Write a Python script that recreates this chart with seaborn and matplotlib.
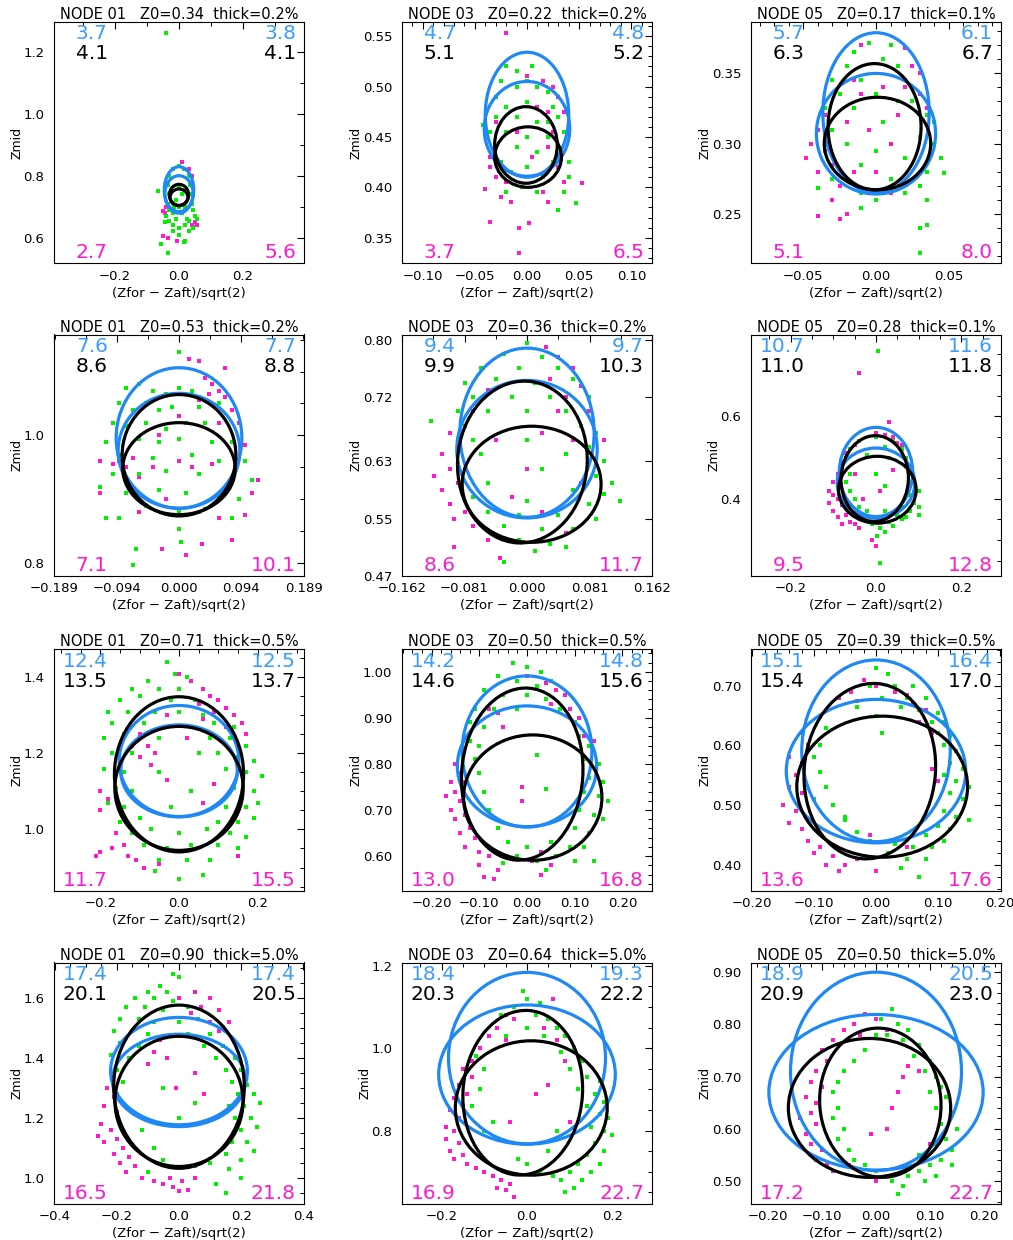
import numpy as np
import matplotlib
matplotlib.use("Agg")
import matplotlib.pyplot as plt
from matplotlib.patches import Ellipse
from matplotlib.ticker import MultipleLocator
import seaborn as sns

# panel order: row by row, columns = NODE 01, 03, 05
NODES = ["01", "03", "05"] * 4
Z0 = [0.34, 0.22, 0.17, 0.53, 0.36, 0.28, 0.71, 0.50, 0.39, 0.90, 0.64, 0.50]
THICK = ["0.2", "0.2", "0.1", "0.2", "0.2", "0.1", "0.5", "0.5", "0.5", "5.0", "5.0", "5.0"]

BLUE_L = ["3.7", "4.7", "5.7", "7.6", "9.4", "10.7", "12.4", "14.2", "15.1", "17.4", "18.4", "18.9"]
BLUE_R = ["3.8", "4.8", "6.1", "7.7", "9.7", "11.6", "12.5", "14.8", "16.4", "17.4", "19.3", "20.5"]
BLACK_L = ["4.1", "5.1", "6.3", "8.6", "9.9", "11.0", "13.5", "14.6", "15.4", "20.1", "20.3", "20.9"]
BLACK_R = ["4.1", "5.2", "6.7", "8.8", "10.3", "11.8", "13.7", "15.6", "17.0", "20.5", "22.2", "23.0"]
PINK_L = ["2.7", "3.7", "5.1", "7.1", "8.6", "9.5", "11.7", "13.0", "13.6", "16.5", "16.9", "17.2"]
PINK_R = ["5.6", "6.5", "8.0", "10.1", "11.7", "12.8", "15.5", "16.8", "17.6", "21.8", "22.7", "22.7"]

# axis ranges
X_HALF = [0.39, 0.1198, 0.086, 0.189, 0.162, 0.293, 0.3175, 0.262, 0.202, 0.402, 0.293, 0.231]
Y_LO = [0.517, 0.3246, 0.2146, 0.780, 0.470, 0.213, 0.839, 0.525, 0.357, 0.912, 0.622, 0.456]
Y_HI = [1.297, 0.5642, 0.3868, 1.158, 0.807, 0.798, 1.474, 1.049, 0.761, 1.717, 1.208, 0.9185]

X_TICKS = [[-0.2, 0, 0.2], [-0.1, -0.05, 0, 0.05, 0.1], [-0.05, 0, 0.05],
           [-0.189, -0.094, 0, 0.094, 0.189], [-0.162, -0.081, 0, 0.081, 0.162], [-0.2, 0, 0.2],
           [-0.2, 0, 0.2], [-0.2, -0.1, 0, 0.1, 0.2], [-0.2, -0.1, 0, 0.1, 0.2],
           [-0.4, -0.2, 0, 0.2, 0.4], [-0.2, 0, 0.2], [-0.2, -0.1, 0, 0.1, 0.2]]
X_DEC = [1, 2, 2, 3, 3, 1, 1, 2, 2, 1, 1, 2]
Y_TICKS = [[0.6, 0.8, 1.0, 1.2], [0.35, 0.40, 0.45, 0.50, 0.55], [0.25, 0.30, 0.35],
           [0.8, 1.0], [0.47, 0.55, 0.63, 0.72, 0.80], [0.4, 0.6],
           [1.0, 1.2, 1.4], [0.6, 0.7, 0.8, 0.9, 1.0], [0.4, 0.5, 0.6, 0.7],
           [1.0, 1.2, 1.4, 1.6], [0.8, 1.0, 1.2], [0.5, 0.6, 0.7, 0.8, 0.9]]
Y_DEC = [1, 2, 2, 1, 2, 1, 1, 2, 2, 1, 1, 2]
X_MINOR = [0.1, 0.01, 0.01, 0.047, 0.0405, 0.05, 0.05, 0.02, 0.02, 0.05, 0.05, 0.02]
Y_MINOR = [0.1, 0.01, 0.01, 0.05, None, 0.05, 0.05, 0.02, 0.02, 0.05, 0.05, 0.02]

# blue ellipses: (cy, half-width, half-height), centred on x=0
BLUE_TALL = [(0.754, 0.046, 0.075), (0.472, 0.040, 0.062), (0.322, 0.0366, 0.057),
             (0.996, 0.095, 0.110), (0.670, 0.087, 0.118), (0.465, 0.086, 0.108),
             (1.180, 0.152, 0.146), (0.827, 0.136, 0.164), (0.591, 0.120, 0.152),
             (1.355, 0.220, 0.179), (0.976, 0.184, 0.208), (0.710, 0.158, 0.190)]
BLUE_WIDE = [(0.742, 0.044, 0.058), (0.458, 0.041, 0.047), (0.307, 0.041, 0.043),
             (0.976, 0.092, 0.090), (0.647, 0.091, 0.096), (0.438, 0.091, 0.085),
             (1.154, 0.148, 0.121), (0.795, 0.146, 0.131), (0.557, 0.145, 0.120),
             (1.324, 0.214, 0.154), (0.936, 0.207, 0.169), (0.670, 0.198, 0.149)]
# black ellipses: (cx, cy, half-width, half-height, angle)
BLACK_A = [(0.0, 0.738, 0.030, 0.034, 0), (-0.001, 0.442, 0.030, 0.038, 0), (-0.001, 0.312, 0.032, 0.045, 0),
           (0.0, 0.969, 0.086, 0.095, 0), (-0.006, 0.629, 0.084, 0.113, -3), (-0.003, 0.449, 0.079, 0.104, -2),
           (0.0, 1.145, 0.164, 0.204, 0), (-0.010, 0.778, 0.127, 0.187, -4), (-0.010, 0.557, 0.106, 0.147, -5),
           (0.0, 1.303, 0.210, 0.272, 0), (-0.010, 0.892, 0.140, 0.200, -4), (0.008, 0.650, 0.112, 0.143, 4)]
BLACK_B = [(0.0, 0.730, 0.028, 0.027, 0), (0.001, 0.430, 0.032, 0.030, 0), (0.001, 0.300, 0.0366, 0.033, 0),
           (0.0, 0.948, 0.085, 0.072, 0), (0.006, 0.598, 0.090, 0.081, 0), (0.003, 0.422, 0.091, 0.081, 0),
           (0.0, 1.108, 0.163, 0.163, 0), (0.012, 0.727, 0.145, 0.136, 0), (0.010, 0.531, 0.138, 0.118, 0),
           (0.0, 1.254, 0.206, 0.217, 0), (0.010, 0.855, 0.178, 0.163, 0), (-0.012, 0.640, 0.150, 0.133, 0)]

# scatter points (x, y pairs, flattened)
G00 = [-0.04, 1.262, -0.065, 0.75, 0.0, 0.83, -0.02, 0.82, 0.015, 0.82, -0.03, 0.80, 0.03, 0.80, -0.035, 0.77,
       0.035, 0.77, -0.03, 0.74, 0.04, 0.74, -0.035, 0.71, 0.04, 0.71, -0.03, 0.69, 0.045, 0.69, -0.04, 0.67,
       0.05, 0.67, -0.03, 0.655, 0.03, 0.655, -0.02, 0.64, 0.02, 0.64, 0.0, 0.63, -0.01, 0.66, 0.01, 0.68,
       0.0, 0.70, -0.01, 0.72, 0.01, 0.74, 0.0, 0.76, -0.015, 0.70, 0.02, 0.70, -0.02, 0.68, 0.025, 0.66,
       0.055, 0.66, -0.055, 0.58, -0.035, 0.55, 0.02, 0.59, 0.015, 0.585, -0.045, 0.65, 0.045, 0.63, 0.0, 0.61,
       -0.02, 0.62, 0.03, 0.62]
M00 = [0.01, 0.845, 0.03, 0.822, 0.04, 0.80, -0.045, 0.68, -0.05, 0.685, -0.05, 0.605, -0.035, 0.60, -0.005, 0.59,
       0.055, 0.66, 0.055, 0.64, 0.045, 0.635, 0.05, 0.65, -0.04, 0.70, -0.02, 0.62, 0.04, 0.64]
G01 = [-0.02, 0.52, -0.01, 0.515, 0.0, 0.505, 0.01, 0.50, -0.025, 0.505, -0.03, 0.49, 0.02, 0.495, -0.02, 0.48,
       0.0, 0.485, 0.025, 0.48, -0.03, 0.47, 0.03, 0.47, -0.01, 0.47, 0.01, 0.465, -0.035, 0.455, -0.042, 0.462,
       0.035, 0.455, -0.02, 0.455, 0.0, 0.45, 0.02, 0.45, -0.03, 0.44, 0.03, 0.44, -0.01, 0.44, 0.01, 0.435,
       -0.025, 0.425, 0.025, 0.425, 0.0, 0.42, -0.015, 0.415, 0.015, 0.41, 0.04, 0.425, 0.04, 0.41, 0.035, 0.395,
       0.03, 0.377, 0.047, 0.384, -0.005, 0.40, 0.01, 0.395, -0.02, 0.395, 0.02, 0.465, -0.01, 0.50, 0.005, 0.52]
M01 = [-0.02, 0.553, 0.0, 0.51, 0.015, 0.505, 0.025, 0.50, 0.03, 0.49, 0.02, 0.475, 0.035, 0.475, 0.01, 0.48,
       -0.03, 0.465, -0.035, 0.43, -0.03, 0.41, -0.035, 0.42, 0.02, 0.44, 0.025, 0.455, 0.005, 0.43, -0.01, 0.455,
       0.03, 0.42, 0.035, 0.405, -0.04, 0.398, -0.025, 0.39, -0.015, 0.385, -0.035, 0.366, -0.008, 0.36,
       0.002, 0.365, -0.008, 0.335, 0.053, 0.404, 0.015, 0.395, 0.02, 0.385, -0.02, 0.405]
G02 = [-0.005, 0.372, 0.01, 0.37, -0.015, 0.365, 0.005, 0.36, -0.02, 0.355, 0.015, 0.355, -0.03, 0.345, -0.01, 0.345,
       0.02, 0.345, -0.025, 0.335, 0.0, 0.335, -0.035, 0.325, -0.015, 0.325, 0.025, 0.33, 0.035, 0.32, -0.03, 0.31,
       0.005, 0.315, 0.03, 0.305, 0.04, 0.30, -0.02, 0.30, 0.0, 0.295, 0.02, 0.29, 0.045, 0.29, -0.01, 0.285,
       0.035, 0.28, -0.03, 0.275, 0.01, 0.275, 0.03, 0.27, 0.047, 0.279, -0.01, 0.265, 0.02, 0.265, 0.035, 0.26,
       0.0, 0.26, -0.01, 0.254, 0.03, 0.24, 0.035, 0.242, 0.03, 0.222, -0.04, 0.268, 0.04, 0.315, 0.015, 0.33]
M02 = [-0.01, 0.37, 0.02, 0.368, 0.025, 0.355, 0.03, 0.35, 0.02, 0.34, 0.03, 0.335, -0.015, 0.345, 0.005, 0.34,
       -0.035, 0.32, -0.04, 0.31, -0.045, 0.30, -0.048, 0.29, -0.035, 0.295, -0.04, 0.28, -0.03, 0.285, -0.025, 0.27,
       -0.03, 0.26, -0.02, 0.25, -0.04, 0.248, -0.025, 0.246, -0.015, 0.28, -0.005, 0.31, 0.01, 0.30, 0.015, 0.32,
       0.035, 0.325, -0.02, 0.315, -0.01, 0.335, 0.0, 0.28, 0.01, 0.265]
G10 = [0.0, 1.13, -0.08, 1.075, -0.06, 1.08, -0.04, 1.07, -0.02, 1.065, 0.0, 1.075, 0.02, 1.07, -0.09, 1.05,
       -0.07, 1.04, -0.05, 1.05, -0.03, 1.04, -0.01, 1.045, 0.03, 1.045, 0.06, 1.05, -0.1, 1.02, -0.08, 1.015,
       -0.05, 1.02, -0.02, 1.01, 0.01, 1.02, 0.04, 1.02, -0.11, 0.99, -0.06, 0.995, -0.03, 0.99, 0.0, 0.995,
       0.05, 0.99, 0.08, 0.99, -0.09, 0.97, -0.04, 0.965, 0.02, 0.97, 0.06, 0.96, 0.1, 0.96, -0.1, 0.94,
       -0.06, 0.94, -0.02, 0.945, 0.03, 0.94, 0.08, 0.935, 0.11, 0.93, -0.08, 0.91, -0.03, 0.915, 0.01, 0.91,
       0.06, 0.905, 0.09, 0.90, -0.11, 0.87, -0.09, 0.87, -0.05, 0.89, 0.0, 0.88, 0.04, 0.885, 0.08, 0.87,
       0.0, 0.853, -0.07, 0.797, -0.065, 0.822, 0.003, 0.833, -0.12, 0.92]
M10 = [0.015, 1.12, 0.03, 1.117, 0.07, 1.105, 0.04, 1.09, 0.05, 1.08, 0.06, 1.07, 0.07, 1.06, 0.045, 1.065,
       0.08, 1.04, 0.03, 1.055, 0.09, 1.02, 0.06, 1.02, -0.09, 0.96, -0.08, 0.95, -0.1, 0.955, -0.07, 0.965,
       -0.12, 0.96, -0.12, 0.91, -0.06, 0.935, -0.04, 0.95, 0.0, 0.96, 0.02, 0.95, 0.05, 0.955, 0.1, 0.985,
       0.12, 0.93, 0.11, 0.91, -0.06, 0.88, -0.02, 0.9, 0.03, 0.88, 0.06, 0.87, 0.1, 0.875, -0.025, 0.823,
       0.01, 0.813, 0.035, 0.83, 0.08, 0.836, -0.03, 1.0, 0.0, 1.03]
G11 = [0.0, 0.795, -0.03, 0.78, 0.02, 0.775, -0.06, 0.76, -0.01, 0.76, 0.04, 0.76, -0.08, 0.74, -0.04, 0.745,
       0.01, 0.74, 0.06, 0.745, -0.07, 0.72, -0.02, 0.72, 0.03, 0.72, 0.08, 0.72, -0.09, 0.70, -0.05, 0.70,
       0.0, 0.70, 0.05, 0.70, -0.125, 0.686, -0.08, 0.68, 0.07, 0.68, 0.09, 0.67, -0.07, 0.66, 0.0, 0.66,
       0.08, 0.65, -0.06, 0.64, 0.05, 0.64, 0.1, 0.63, -0.08, 0.62, 0.02, 0.62, 0.09, 0.61, 0.11, 0.60,
       -0.05, 0.60, 0.06, 0.59, 0.1, 0.585, 0.12, 0.575, -0.07, 0.58, 0.0, 0.575, 0.08, 0.57, -0.05, 0.56,
       -0.01, 0.555, 0.04, 0.555, 0.09, 0.55, -0.03, 0.54, 0.02, 0.535, 0.06, 0.535, -0.01, 0.52, 0.03, 0.515,
       0.05, 0.51, -0.03, 0.49, 0.01, 0.505]
M11 = [0.025, 0.79, 0.04, 0.775, 0.06, 0.76, 0.03, 0.745, 0.07, 0.735, 0.05, 0.72, 0.08, 0.70, 0.04, 0.70,
       -0.05, 0.73, -0.07, 0.70, -0.1, 0.67, -0.09, 0.65, -0.11, 0.64, -0.1, 0.62, -0.12, 0.61, -0.09, 0.60,
       -0.11, 0.59, -0.1, 0.57, -0.08, 0.56, -0.095, 0.55, -0.07, 0.54, -0.095, 0.51, -0.05, 0.52, -0.035, 0.495,
       -0.02, 0.58, 0.0, 0.62, 0.02, 0.67, 0.06, 0.66, 0.07, 0.60, -0.04, 0.66, 0.1, 0.66, 0.02, 0.56, 0.05, 0.53]
G12 = [0.005, 0.757, 0.0, 0.55, -0.04, 0.54, 0.04, 0.54, -0.06, 0.52, 0.02, 0.525, 0.06, 0.52, -0.07, 0.50,
       -0.02, 0.505, 0.03, 0.50, 0.07, 0.50, -0.08, 0.48, 0.08, 0.48, -0.06, 0.46, 0.0, 0.46, 0.085, 0.46,
       -0.07, 0.44, 0.09, 0.44, 0.02, 0.43, -0.06, 0.42, 0.1, 0.42, 0.08, 0.41, -0.05, 0.40, 0.09, 0.39,
       0.1, 0.38, -0.04, 0.38, 0.06, 0.38, 0.08, 0.37, -0.02, 0.37, 0.02, 0.37, 0.05, 0.36, -0.03, 0.355,
       0.0, 0.355, 0.07, 0.355, 0.03, 0.345, -0.01, 0.34, 0.04, 0.335, 0.01, 0.33, 0.02, 0.32, 0.003, 0.31,
       0.01, 0.245, 0.06, 0.35, 0.1, 0.36]
M12 = [0.03, 0.585, -0.04, 0.705, 0.0, 0.56, 0.02, 0.555, 0.04, 0.55, 0.05, 0.535, 0.06, 0.53, -0.05, 0.53,
       -0.07, 0.51, -0.08, 0.49, -0.09, 0.46, -0.1, 0.44, -0.09, 0.43, -0.11, 0.42, -0.1, 0.41, -0.09, 0.40,
       -0.11, 0.39, -0.08, 0.385, -0.1, 0.37, -0.07, 0.36, -0.09, 0.355, -0.06, 0.345, -0.05, 0.34, -0.08, 0.34,
       -0.04, 0.33, -0.01, 0.30, 0.0, 0.285, 0.01, 0.42, -0.03, 0.40, 0.04, 0.47, -0.05, 0.46]
G20 = [-0.03, 1.44, -0.01, 1.41, 0.02, 1.40, -0.08, 1.39, -0.12, 1.37, -0.05, 1.37, 0.0, 1.37, -0.15, 1.34,
       -0.1, 1.35, -0.02, 1.34, 0.04, 1.34, -0.18, 1.31, -0.13, 1.31, -0.06, 1.31, 0.0, 1.31, 0.06, 1.30,
       -0.17, 1.28, -0.09, 1.28, 0.03, 1.27, 0.09, 1.28, 0.14, 1.27, -0.19, 1.24, -0.14, 1.25, -0.05, 1.24,
       0.08, 1.24, 0.13, 1.24, 0.17, 1.22, -0.17, 1.2, -0.12, 1.2, 0.1, 1.2, 0.15, 1.19, 0.19, 1.18,
       -0.19, 1.16, -0.14, 1.15, 0.12, 1.16, 0.17, 1.15, 0.21, 1.14, -0.16, 1.11, -0.12, 1.1, 0.14, 1.11,
       0.19, 1.1, -0.18, 1.07, -0.14, 1.06, 0.12, 1.06, 0.17, 1.06, 0.2, 1.07, -0.15, 1.02, -0.1, 1.03,
       0.1, 1.02, 0.15, 1.02, 0.19, 1.03, -0.12, 0.99, -0.07, 1.0, 0.0, 0.99, 0.07, 1.0, 0.13, 0.99,
       0.17, 0.98, -0.09, 0.96, -0.03, 0.95, 0.03, 0.96, 0.1, 0.96, 0.15, 0.95, -0.05, 0.92, 0.02, 0.92,
       0.08, 0.92, -0.06, 0.89, 0.0, 0.87, 0.06, 0.88, -0.02, 1.06, 0.03, 1.1, -0.05, 1.15, 0.05, 1.2]
M20 = [0.0, 1.41, 0.03, 1.39, 0.06, 1.37, 0.08, 1.35, 0.1, 1.34, 0.12, 1.32, 0.05, 1.33, 0.14, 1.30,
       0.09, 1.31, 0.16, 1.28, 0.12, 1.27, 0.06, 1.29, -0.1, 1.25, -0.08, 1.22, -0.12, 1.22, -0.06, 1.2,
       -0.1, 1.19, -0.07, 1.17, -0.2, 1.1, -0.18, 1.08, -0.2, 1.05, -0.16, 0.99, -0.14, 0.96, -0.17, 0.95,
       -0.13, 0.93, -0.11, 0.92, -0.09, 0.9, -0.05, 0.91, -0.21, 0.93, -0.2, 0.94, -0.03, 1.13, 0.06, 1.07,
       0.09, 1.12, 0.15, 0.93, 0.17, 1.25, -0.03, 1.3, 0.02, 1.24]
G21 = [-0.03, 1.02, 0.0, 1.01, 0.03, 1.0, -0.06, 0.99, -0.02, 0.98, 0.02, 0.97, 0.05, 0.98, -0.09, 0.96,
       -0.05, 0.95, 0.0, 0.95, 0.04, 0.94, -0.11, 0.92, -0.07, 0.92, -0.02, 0.92, 0.07, 0.92, -0.12, 0.89,
       -0.09, 0.88, 0.1, 0.89, -0.12, 0.85, -0.1, 0.84, 0.11, 0.86, 0.13, 0.84, -0.11, 0.81, 0.12, 0.81,
       0.15, 0.80, -0.1, 0.78, 0.13, 0.77, 0.16, 0.76, -0.09, 0.74, 0.12, 0.74, 0.15, 0.73, 0.17, 0.72,
       -0.08, 0.70, 0.11, 0.70, 0.14, 0.69, 0.16, 0.68, -0.06, 0.66, 0.1, 0.66, 0.13, 0.65, -0.04, 0.63,
       0.0, 0.62, 0.05, 0.63, 0.09, 0.62, 0.12, 0.62, -0.02, 0.60, 0.02, 0.59, 0.06, 0.60, 0.1, 0.59,
       -0.05, 0.585, 0.04, 0.57, 0.14, 0.59, 0.02, 0.82, 0.04, 0.745]
M21 = [0.0, 0.99, 0.04, 0.975, 0.06, 0.96, 0.08, 0.95, 0.05, 0.93, 0.09, 0.92, 0.11, 0.90, -0.08, 0.92,
       -0.06, 0.91, -0.05, 0.88, 0.12, 0.86, 0.14, 0.85, -0.15, 0.80, -0.14, 0.78, -0.16, 0.76, -0.13, 0.76,
       -0.15, 0.74, -0.17, 0.73, -0.14, 0.72, -0.16, 0.70, -0.13, 0.69, -0.15, 0.68, -0.12, 0.66, -0.14, 0.65,
       -0.11, 0.64, -0.13, 0.62, -0.1, 0.61, -0.08, 0.60, -0.1, 0.58, -0.06, 0.57, -0.09, 0.555, -0.07, 0.55,
       0.03, 0.56, 0.05, 0.58, -0.01, 0.75, -0.01, 0.72, 0.03, 0.61, 0.01, 0.59]
G22 = [0.0, 0.73, 0.02, 0.72, -0.01, 0.70, 0.03, 0.70, 0.06, 0.70, 0.01, 0.68, 0.05, 0.68, 0.08, 0.68,
       -0.03, 0.665, 0.04, 0.665, 0.07, 0.66, 0.1, 0.655, 0.0, 0.65, 0.09, 0.64, 0.11, 0.64, -0.08, 0.63,
       0.1, 0.62, 0.12, 0.615, -0.09, 0.60, 0.11, 0.60, 0.13, 0.59, -0.1, 0.58, 0.12, 0.57, 0.14, 0.56,
       -0.09, 0.555, 0.11, 0.55, 0.13, 0.54, 0.15, 0.53, -0.08, 0.53, 0.12, 0.52, 0.14, 0.51, -0.1, 0.51,
       -0.07, 0.50, 0.11, 0.49, 0.13, 0.48, 0.15, 0.475, -0.05, 0.48, 0.1, 0.465, 0.12, 0.46, -0.03, 0.455,
       0.08, 0.45, 0.11, 0.44, -0.01, 0.44, 0.03, 0.435, 0.06, 0.43, 0.09, 0.43, 0.02, 0.42, 0.05, 0.41,
       0.08, 0.41, 0.04, 0.395, 0.07, 0.38, 0.01, 0.62, -0.05, 0.475]
M22 = [-0.02, 0.71, 0.0, 0.70, -0.04, 0.69, 0.03, 0.69, -0.06, 0.68, -0.03, 0.675, 0.05, 0.685, 0.06, 0.67,
       0.08, 0.66, 0.07, 0.64, 0.09, 0.62, -0.12, 0.62, -0.11, 0.60, -0.14, 0.58, -0.12, 0.57, -0.13, 0.55,
       -0.14, 0.53, -0.12, 0.52, -0.15, 0.50, -0.13, 0.49, -0.14, 0.47, -0.12, 0.46, -0.11, 0.44, -0.09, 0.43,
       -0.1, 0.42, -0.07, 0.415, -0.08, 0.40, -0.05, 0.40, -0.06, 0.39, -0.03, 0.41, 0.0, 0.39, 0.1, 0.54,
       0.09, 0.56, -0.01, 0.45, 0.05, 0.43]
G30 = [-0.02, 1.68, 0.0, 1.67, -0.06, 1.64, -0.1, 1.62, -0.04, 1.62, -0.14, 1.6, -0.08, 1.6, -0.02, 1.59,
       -0.17, 1.57, -0.11, 1.57, -0.05, 1.56, 0.03, 1.57, -0.19, 1.53, -0.13, 1.53, -0.08, 1.52, 0.0, 1.52,
       0.06, 1.53, -0.21, 1.49, -0.15, 1.49, -0.1, 1.48, 0.03, 1.48, 0.1, 1.48, -0.19, 1.45, -0.13, 1.44,
       0.08, 1.44, 0.14, 1.44, -0.22, 1.41, -0.16, 1.40, 0.12, 1.40, 0.18, 1.40, -0.2, 1.36, 0.15, 1.36,
       0.2, 1.36, -0.18, 1.32, 0.17, 1.32, 0.22, 1.31, -0.2, 1.28, 0.19, 1.28, 0.24, 1.28, 0.16, 1.24,
       0.21, 1.24, 0.26, 1.25, -0.15, 1.22, 0.18, 1.2, 0.23, 1.2, 0.25, 1.17, -0.12, 1.16, 0.2, 1.16,
       0.22, 1.12, 0.17, 1.12, 0.24, 1.09, -0.08, 1.10, 0.15, 1.08, 0.2, 1.06, 0.1, 1.05, 0.16, 1.03,
       0.2, 1.0, -0.05, 1.06, 0.05, 1.04, 0.12, 0.98, 0.15, 0.95, -0.1, 1.02, 0.0, 1.2, 0.05, 1.25, -0.05, 1.3]
M30 = [0.0, 1.6, 0.05, 1.62, 0.1, 1.6, 0.07, 1.57, 0.13, 1.56, 0.04, 1.55, 0.1, 1.52, 0.16, 1.52,
       0.13, 1.49, -0.06, 1.46, -0.08, 1.42, -0.04, 1.4, -0.1, 1.38, -0.23, 1.3, -0.21, 1.27, -0.24, 1.24,
       -0.2, 1.22, -0.25, 1.18, -0.22, 1.16, -0.2, 1.13, -0.24, 1.12, -0.18, 1.1, -0.21, 1.08, -0.16, 1.07,
       -0.19, 1.05, -0.14, 1.04, -0.17, 1.02, -0.12, 1.0, -0.08, 0.99, -0.05, 0.98, -0.02, 0.97, 0.01, 0.99,
       0.03, 0.96, -0.03, 1.0, 0.05, 1.0, 0.0, 0.955, 0.05, 1.35, -0.01, 1.3, 0.08, 1.28, -0.26, 1.14]
G31 = [-0.01, 1.14, 0.0, 1.12, 0.03, 1.11, -0.03, 1.1, 0.02, 1.08, 0.05, 1.07, -0.06, 1.08, 0.07, 1.05,
       0.0, 1.05, 0.09, 1.03, 0.04, 1.03, 0.11, 1.0, 0.08, 0.99, 0.13, 0.97, 0.1, 0.95, 0.14, 0.93,
       0.17, 0.92, 0.12, 0.9, 0.16, 0.89, 0.18, 0.87, 0.14, 0.86, 0.17, 0.84, 0.19, 0.83, 0.15, 0.81,
       0.18, 0.8, 0.2, 0.79, 0.16, 0.77, 0.18, 0.75, 0.14, 0.74, 0.17, 0.72, 0.12, 0.72, 0.15, 0.7,
       0.1, 0.7, 0.13, 0.68, 0.08, 0.68, 0.11, 0.66, 0.06, 0.69, 0.09, 0.65, 0.03, 0.7, 0.0, 0.72,
       -0.12, 0.98, -0.1, 0.95, -0.11, 0.9, -0.13, 0.86, -0.08, 0.82, -0.1, 0.8, -0.05, 1.03, 0.07, 0.8,
       0.05, 0.75, -0.02, 0.73]
M31 = [-0.05, 1.08, -0.03, 1.07, -0.07, 1.05, 0.06, 1.12, 0.04, 1.05, -0.09, 1.03, -0.05, 1.02, -0.11, 1.0,
       -0.13, 0.97, -0.15, 0.95, -0.13, 0.93, -0.16, 0.91, -0.14, 0.89, -0.17, 0.88, -0.15, 0.86, -0.18, 0.85,
       -0.16, 0.83, -0.19, 0.81, -0.17, 0.8, -0.19, 0.78, -0.16, 0.77, -0.18, 0.75, -0.15, 0.74, -0.17, 0.73,
       -0.14, 0.72, -0.12, 0.71, -0.1, 0.7, -0.08, 0.69, -0.06, 0.68, -0.04, 0.67, -0.07, 0.66, -0.05, 0.655,
       -0.03, 0.64, 0.02, 0.89, -0.04, 0.82, 0.05, 0.91, 0.1, 0.82, 0.09, 0.97, 0.07, 1.02]
G32 = [0.03, 0.83, 0.01, 0.81, 0.04, 0.80, 0.06, 0.79, 0.02, 0.78, 0.05, 0.77, 0.08, 0.76, 0.07, 0.74,
       0.1, 0.73, 0.09, 0.71, 0.11, 0.70, 0.12, 0.68, 0.1, 0.67, 0.13, 0.66, 0.11, 0.64, 0.14, 0.63,
       0.12, 0.61, 0.15, 0.60, 0.13, 0.58, 0.14, 0.56, 0.11, 0.57, 0.12, 0.54, 0.14, 0.53, 0.1, 0.53,
       0.11, 0.51, 0.08, 0.52, 0.09, 0.50, 0.06, 0.51, 0.05, 0.49, 0.03, 0.50, 0.04, 0.475, -0.02, 0.75,
       -0.04, 0.73, -0.06, 0.71, -0.07, 0.69, -0.08, 0.67, -0.07, 0.64, -0.08, 0.62, -0.06, 0.6, -0.07, 0.58,
       -0.05, 0.56, -0.04, 0.54, -0.02, 0.53, 0.0, 0.52, 0.08, 0.55, 0.0, 0.78]
M32 = [-0.02, 0.82, 0.0, 0.81, -0.04, 0.80, -0.06, 0.79, -0.08, 0.77, -0.03, 0.78, -0.1, 0.75, -0.09, 0.73,
       -0.11, 0.71, -0.12, 0.69, -0.1, 0.68, -0.13, 0.66, -0.11, 0.65, -0.12, 0.63, -0.14, 0.62, -0.11, 0.61,
       -0.13, 0.59, -0.12, 0.57, -0.1, 0.56, -0.11, 0.54, -0.09, 0.53, -0.08, 0.52, 0.02, 0.79, 0.06, 0.72,
       0.08, 0.71, 0.05, 0.7, 0.04, 0.67, 0.1, 0.57, -0.01, 0.59, 0.02, 0.6, 0.03, 0.64, 0.0, 0.5, -0.05, 0.53]

GREEN_PTS = [G00, G01, G02, G10, G11, G12, G20, G21, G22, G30, G31, G32]
PINK_PTS = [M00, M01, M02, M10, M11, M12, M20, M21, M22, M30, M31, M32]

GREEN = "#00F000"
PINK = "#FF1ACC"
BLUE = "#1E88F5"
BLUE_TXT = "#3C9CFF"
BLACK = "black"

sns.set_theme(style="white")
plt.rcParams["font.family"] = ["DejaVu Sans"]
plt.rcParams["axes.edgecolor"] = "black"
plt.rcParams["axes.linewidth"] = 0.8
plt.rcParams["text.color"] = "black"
plt.rcParams["axes.labelcolor"] = "black"
plt.rcParams["axes.titlecolor"] = "black"

fig = plt.figure(figsize=(10.13, 12.40), dpi=100)
LEFTS = [54 / 1013, 402 / 1013, 751 / 1013]
BOTTOMS = [976.7 / 1240, 664 / 1240, 349.3 / 1240, 36 / 1240]
W, H = 250 / 1013, 241.5 / 1240


def fmt(v, d):
    return f"{v:.{d}f}".replace("-", "\u2212")


for i in range(12):
    r, c = divmod(i, 3)
    ax = fig.add_axes([LEFTS[c], BOTTOMS[r], W, H])
    m = np.array(PINK_PTS[i]).reshape(-1, 2)
    g = np.array(GREEN_PTS[i]).reshape(-1, 2)
    sns.scatterplot(x=m[:, 0], y=m[:, 1], ax=ax, color=PINK, marker="s", s=8, linewidth=0, legend=False)
    sns.scatterplot(x=g[:, 0], y=g[:, 1], ax=ax, color=GREEN, marker="s", s=8, linewidth=0, legend=False)

    for cy, a, b in (BLUE_TALL[i], BLUE_WIDE[i]):
        ax.add_patch(Ellipse((0, cy), 2 * a, 2 * b, fill=False, lw=2.3, color=BLUE, zorder=4))
    for cx, cy, a, b, ang in (BLACK_A[i], BLACK_B[i]):
        ax.add_patch(Ellipse((cx, cy), 2 * a, 2 * b, angle=ang, fill=False, lw=2.3, color=BLACK, zorder=5))

    ax.set_xlim(-X_HALF[i], X_HALF[i])
    ax.set_ylim(Y_LO[i], Y_HI[i])
    ax.set_xticks(X_TICKS[i])
    ax.set_xticklabels([fmt(v, X_DEC[i]) for v in X_TICKS[i]])
    ax.set_yticks(Y_TICKS[i])
    ax.set_yticklabels([fmt(v, Y_DEC[i]) for v in Y_TICKS[i]])
    ax.xaxis.set_minor_locator(MultipleLocator(X_MINOR[i]))
    if Y_MINOR[i]:
        ax.yaxis.set_minor_locator(MultipleLocator(Y_MINOR[i]))
    ax.tick_params(which="both", direction="in", top=True, right=True, labelsize=9.5, colors="black")
    ax.tick_params(axis="x", which="both", pad=4.5)
    ax.tick_params(axis="y", which="both", pad=7)
    ax.tick_params(which="major", length=5, width=0.8)
    ax.tick_params(which="minor", length=3, width=0.7)
    for s in ax.spines.values():
        s.set_color("black")

    ax.set_xlabel("(Zfor \u2212 Zaft)/sqrt(2)", fontsize=9.5, labelpad=3)
    ax.set_ylabel("Zmid", fontsize=9, labelpad=0)
    ax.set_title(f"NODE {NODES[i]}   Z0={Z0[i]:.2f}  thick={THICK[i]}%", fontsize=10.5, pad=2)

    kw = dict(transform=ax.transAxes, fontsize=14.5, zorder=6)
    ax.text(0.215, 0.927, BLUE_L[i], color=BLUE_TXT, ha="right", va="baseline", **kw)
    ax.text(0.968, 0.927, BLUE_R[i], color=BLUE_TXT, ha="right", va="baseline", **kw)
    ax.text(0.215, 0.844, BLACK_L[i], color=BLACK, ha="right", va="baseline", **kw)
    ax.text(0.968, 0.844, BLACK_R[i], color=BLACK, ha="right", va="baseline", **kw)
    ax.text(0.215, 0.021, PINK_L[i], color=PINK, ha="right", va="baseline", **kw)
    ax.text(0.968, 0.021, PINK_R[i], color=PINK, ha="right", va="baseline", **kw)

fig.savefig("out.png", dpi=100)
